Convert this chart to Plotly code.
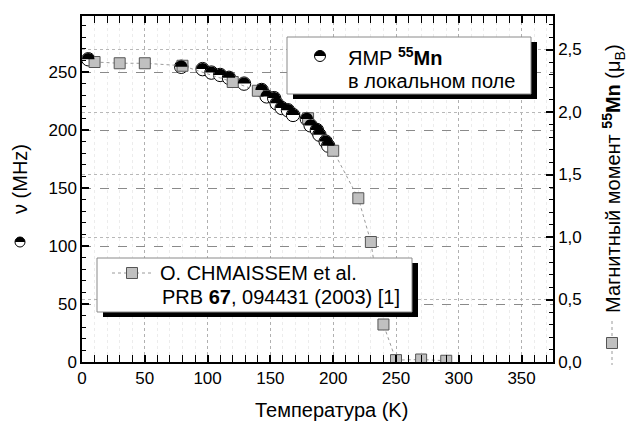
import plotly.graph_objects as go

# NMR frequency of 55Mn in the local field (MHz) vs temperature (K)
T_nmr = [5, 79, 96, 103, 110, 117, 129, 143, 147, 153, 155, 159, 164, 168,
         179, 182, 187, 189, 194, 196]
nu_nmr = [261, 254.5, 252.5, 249.5, 247.5, 245, 240, 234.5, 229, 227.5, 223,
          219, 217, 213, 209.5, 204, 200, 196, 190, 186.5]

# Mn magnetic moment (mu_B), O. Chmaissem et al., PRB 67, 094431 (2003)
T_ch = [10, 30, 50, 80, 120, 140, 180, 200, 220, 230, 240, 250, 270, 290]
mu_ch = [2.40, 2.39, 2.39, 2.37, 2.24, 2.17, 1.95, 1.69, 1.31, 0.96, 0.30,
         0.015, 0.02, 0.01]

x_ticks = [0, 50, 100, 150, 200, 250, 300, 350]
y_ticks = [0, 50, 100, 150, 200, 250]
y2_ticks = [0.0, 0.5, 1.0, 1.5, 2.0, 2.5]

FONT = "Liberation Sans, Arial, sans-serif"
W, H = 627, 422
ML, MR, MT, MB = 82, 74, 16, 60
PW, PH = W - ML - MR, H - MT - MB


def px(p):
    return (p - ML) / PW


def py(p):
    return 1 - (p - MT) / PH


def top_half(r):
    c = 0.5523 * r
    return (f"M {-r},0 C {-r},{c} {-c},{r} 0,{r} "
            f"C {c},{r} {r},{c} {r},0 Z")


R = 6.2

fig = go.Figure()

fig.add_trace(go.Scatter(
    x=T_ch, y=mu_ch, yaxis="y2", mode="lines+markers",
    line=dict(color="#9a9a9a", width=1, dash="dot"),
    marker=dict(symbol="square", size=11, color="#c0c0c0",
                line=dict(color="#555555", width=1)),
    showlegend=False,
))

fig.add_trace(go.Scatter(
    x=T_nmr, y=nu_nmr, mode="markers",
    marker=dict(symbol="circle", size=2 * R + 1, color="white",
                line=dict(color="black", width=1)),
    showlegend=False,
))

shapes = []
# black upper halves of the NMR markers
for t, v in zip(T_nmr, nu_nmr):
    shapes.append(dict(type="path", xref="x", yref="y",
                       xsizemode="pixel", ysizemode="pixel",
                       xanchor=t, yanchor=v, path=top_half(R),
                       fillcolor="black", line=dict(width=0), layer="above"))


def half_symbol(xp, yp, r=5.5):
    return [
        dict(type="circle", xref="paper", yref="paper",
             xsizemode="pixel", ysizemode="pixel",
             xanchor=px(xp), yanchor=py(yp), x0=-r, x1=r, y0=-r, y1=r,
             fillcolor="white", line=dict(color="black", width=1)),
        dict(type="path", xref="paper", yref="paper",
             xsizemode="pixel", ysizemode="pixel",
             xanchor=px(xp), yanchor=py(yp), path=top_half(r),
             fillcolor="black", line=dict(width=0)),
    ]


def square_symbol(xp, yp, horizontal=True, s=5.5, span=20):
    if horizontal:
        line = dict(type="line", xref="paper", yref="paper",
                    x0=px(xp - span), x1=px(xp + span), y0=py(yp), y1=py(yp),
                    line=dict(color="#9a9a9a", width=1, dash="dot"))
    else:
        line = dict(type="line", xref="paper", yref="paper",
                    x0=px(xp), x1=px(xp), y0=py(yp - span), y1=py(yp + span),
                    line=dict(color="#9a9a9a", width=1, dash="dot"))
    sq = dict(type="rect", xref="paper", yref="paper",
              xsizemode="pixel", ysizemode="pixel",
              xanchor=px(xp), yanchor=py(yp), x0=-s, x1=s, y0=-s, y1=s,
              fillcolor="#c0c0c0", line=dict(color="#555555", width=1))
    return [line, sq]


def boxed(x0, y0, x1, y1, dx=6, dy=5):
    return [
        dict(type="rect", xref="paper", yref="paper",
             x0=px(x0 + dx), x1=px(x1 + dx), y0=py(y0 + dy), y1=py(y1 + dy),
             fillcolor="black", line=dict(width=0)),
        dict(type="rect", xref="paper", yref="paper",
             x0=px(x0), x1=px(x1), y0=py(y0), y1=py(y1),
             fillcolor="white", line=dict(color="#8a8a8a", width=1)),
    ]


shapes += boxed(287, 37, 531, 94)
shapes += half_symbol(320, 56)
shapes += boxed(97, 258, 412, 312)
shapes += square_symbol(132, 273)
shapes += half_symbol(20, 242, r=5)
shapes += square_symbol(612, 343, horizontal=False, span=22)

fig.update_layout(shapes=shapes)

LEG = dict(family=FONT, size=20, color="black")
annotations = [
    dict(text="ЯМР <sup><b>55</b></sup><b>Mn</b>", x=px(346), y=py(57)),
    dict(text="в локальном поле", x=px(346), y=py(81)),
    dict(text="O. CHMAISSEM et al.", x=px(158), y=py(273)),
    dict(text="PRB <b>67</b>, 094431 (2003) [1]", x=px(160), y=py(297)),
]
for a in annotations:
    a.update(xref="paper", yref="paper", xanchor="left", yanchor="middle",
             showarrow=False, font=LEG)

TIT = dict(family=FONT, size=20, color="black")
annotations += [
    dict(text="Температура (K)", x=px(331), y=py(410), xref="paper",
         yref="paper", xanchor="center", yanchor="middle", showarrow=False,
         font=TIT),
    dict(text="ν (MHz)", x=px(20), y=py(179), xref="paper", yref="paper",
         xanchor="center", yanchor="middle", textangle=-90,
         showarrow=False, font=TIT),
    dict(text="Магнитный момент <sup><b>55</b></sup><b>Mn</b> (μ<sub>B</sub>)",
         x=px(613), y=py(179), xref="paper", yref="paper",
         xanchor="center", yanchor="middle", textangle=-90,
         showarrow=False, font=TIT),
]

TICKF = dict(family=FONT, size=17, color="black")
fig.update_layout(
    width=W, height=H,
    margin=dict(l=ML, r=MR, t=MT, b=MB, pad=0),
    paper_bgcolor="white", plot_bgcolor="white",
    separators=", ",
    annotations=annotations,
    xaxis=dict(
        range=[0, 375], tickvals=x_ticks, ticks="inside", ticklen=7,
        tickwidth=1.5, tickcolor="black", showline=True, linecolor="black",
        linewidth=1.5, mirror="allticks", tickfont=TICKF,
        showgrid=True, gridcolor="#b0b0b0", griddash="dot", gridwidth=1,
        zeroline=False,
        minor=dict(dtick=10, ticks="inside", ticklen=4, tickwidth=1.2,
                   tickcolor="black", showgrid=True, gridcolor="#ececec",
                   griddash="dot", gridwidth=1),
    ),
    yaxis=dict(
        range=[0, 298.3], tickvals=y_ticks, ticks="inside", ticklen=7,
        tickwidth=1.5, tickcolor="black", showline=True, linecolor="black",
        linewidth=1.5, tickfont=TICKF, zeroline=False,
        showgrid=True, gridcolor="#8a8a8a", griddash="dash", gridwidth=1,
        minor=dict(dtick=10, ticks="inside", ticklen=4, tickwidth=1.2,
                   tickcolor="black", showgrid=False),
    ),
    yaxis2=dict(
        overlaying="y", side="right", range=[0, 2.768], tickvals=y2_ticks,
        tickformat=".1f", ticks="inside", ticklen=7, tickwidth=1.5,
        tickcolor="black", showline=True, linecolor="black", linewidth=1.5,
        tickfont=TICKF, zeroline=False,
        showgrid=True, gridcolor="#b8b8b8", griddash="dot", gridwidth=1,
        minor=dict(dtick=0.1, ticks="inside", ticklen=4, tickwidth=1.2,
                   tickcolor="black", showgrid=False),
    ),
)

fig.write_html("out.html")
